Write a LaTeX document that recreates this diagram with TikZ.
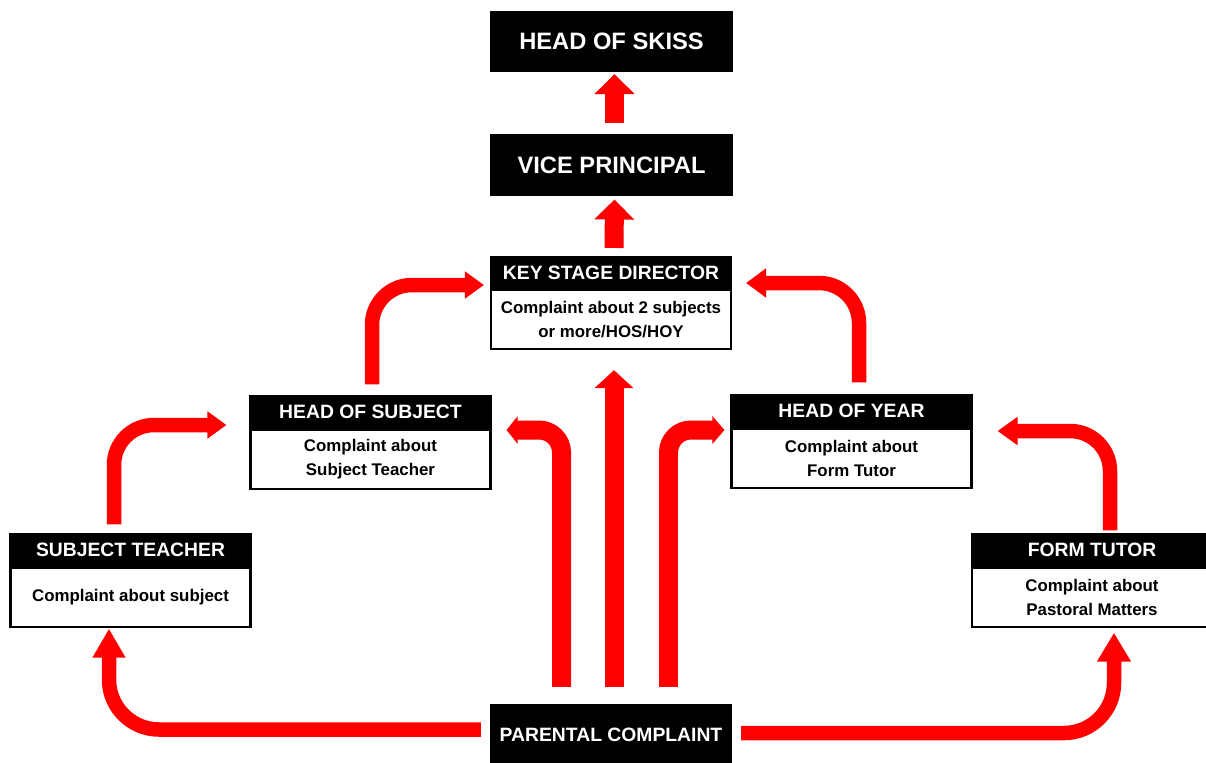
\documentclass[tikz,border=0pt]{standalone}
\usepackage{fontspec}
\setmainfont{Liberation Sans}
\usetikzlibrary{arrows.meta, positioning}

\begin{document}
\begin{tikzpicture}[x=0.02cm, y=-0.02cm,
    bigbox/.style={fill=black, draw=black, line width=1.2pt, text=white, minimum width=4.8cm, minimum height=1.18cm, inner sep=0pt, font=\bfseries\fontsize{13.5}{16}\selectfont},
    headbox/.style={fill=black, draw=black, line width=1.2pt, text=white, minimum width=4.8cm, minimum height=0.62cm, inner sep=0pt, font=\bfseries\fontsize{11}{13}\selectfont},
    bodybox/.style={fill=white, draw=black, line width=1.2pt, minimum width=4.8cm, minimum height=1.18cm, inner sep=0pt, align=center, font=\bfseries\fontsize{9.6}{13.5}\selectfont},
    flow/.style={draw=red, line width=0.29cm, rounded corners=0.8cm},
    bigflow/.style={draw=red, line width=0.38cm, rounded corners=0.45cm}]
        \useasboundingbox (0,0) rectangle (1206,762);

        % Nodes
        \node[bigbox] (skiss) at (611.5, 41.5) {HEAD OF SKISS};
        \node[bigbox] (vp) at (611.5, 165) {VICE PRINCIPAL};
        \node[headbox] (ksd) at (611, 272.5) {KEY STAGE DIRECTOR};
        \node[bodybox, below=0pt of ksd] (ksdb) {Complaint about 2 subjects\\or more/HOS/HOY};
        \node[headbox] (hos) at (370.5, 412) {HEAD OF SUBJECT};
        \node[bodybox, below=0pt of hos] (hosb) {Complaint about\\Subject Teacher};
        \node[headbox] (hoy) at (851.5, 411) {HEAD OF YEAR};
        \node[bodybox, below=0pt of hoy] (hoyb) {Complaint about\\Form Tutor};
        \node[headbox] (st) at (130.5, 550) {SUBJECT TEACHER};
        \node[bodybox, below=0pt of st] (stb) {Complaint about subject};
        \node[headbox] (ft) at (1092, 550) {FORM TUTOR};
        \node[bodybox, below=0pt of ft] (ftb) {Complaint about\\Pastoral Matters};
        \node[bigbox, font=\bfseries\fontsize{11}{13}\selectfont] (pc) at (611, 734.5) {PARENTAL COMPLAINT};

        % Straight arrows up the middle
        \draw[bigflow, -{Triangle[length=0.4cm, width=0.78cm]}] ([xshift=0.06cm, yshift=0.22cm]vp.north) -- ([xshift=0.06cm, yshift=-0.04cm]skiss.south);
        \draw[bigflow, -{Triangle[length=0.4cm, width=0.78cm]}] ([xshift=0.06cm, yshift=0.16cm]ksd.north) -- ([xshift=0.06cm, yshift=-0.08cm]vp.south);
        \draw[bigflow, -{Triangle[length=0.36cm, width=0.76cm]}] ([xshift=0.06cm, yshift=0.34cm]pc.north) -- ([xshift=0.06cm, yshift=-0.4cm]ksdb.south);
        \draw[bigflow, -{Triangle[length=0.22cm, width=0.54cm]}] ([xshift=-0.99cm, yshift=0.34cm]pc.north) |- ([xshift=0.3cm, yshift=-0.36cm]hos.east);
        \draw[bigflow, -{Triangle[length=0.24cm, width=0.54cm]}] ([xshift=1.15cm, yshift=0.34cm]pc.north) |- ([xshift=-0.12cm, yshift=-0.38cm]hoy.west);

        % Bent arrows round the sides
        \draw[flow, rounded corners=1cm, -{Triangle[length=0.58cm, width=0.62cm]}] ([xshift=-0.18cm, yshift=0.1cm]pc.west) -| ([xshift=-0.43cm, yshift=-0.02cm]stb.south);
        \draw[flow, -{Triangle[length=0.38cm, width=0.52cm]}] ([xshift=-0.33cm, yshift=0.18cm]st.north) |- ([xshift=-0.46cm, yshift=-0.26cm]hos.west);
        \draw[flow, -{Triangle[length=0.38cm, width=0.52cm]}] ([xshift=0.03cm, yshift=0.22cm]hos.north) |- ([xshift=-0.12cm, yshift=-0.25cm]ksd.west);
        \draw[flow, -{Triangle[length=0.4cm, width=0.56cm]}] ([xshift=0.15cm, yshift=0.24cm]hoy.north) |- ([xshift=0.28cm, yshift=-0.21cm]ksd.east);
        \draw[flow, -{Triangle[length=0.4cm, width=0.54cm]}] ([xshift=0.36cm, yshift=0.06cm]ft.north) |- ([xshift=0.5cm, yshift=-0.4cm]hoy.east);
        \draw[flow, rounded corners=1cm, -{Triangle[length=0.58cm, width=0.64cm]}] ([xshift=0.18cm, yshift=0.03cm]pc.east) -| ([xshift=0.44cm, yshift=-0.1cm]ftb.south);
    \end{tikzpicture}
\end{document}
